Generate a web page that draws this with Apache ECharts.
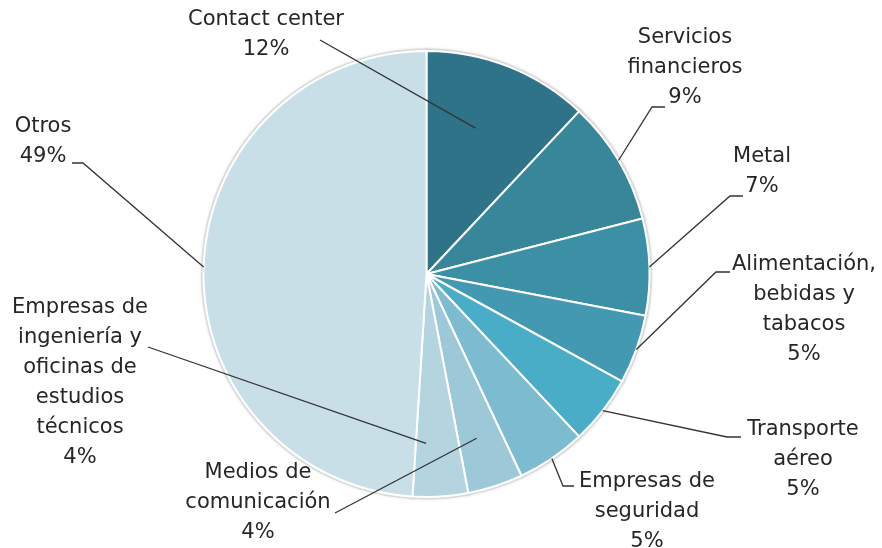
<!DOCTYPE html>
<html>
<head>
<meta charset="utf-8">
<script src="https://cdn.jsdelivr.net/npm/echarts@6/dist/echarts.min.js"></script>
<style>
html,body{margin:0;padding:0;background:#fff;}
#chart{width:882px;height:548px;}
</style>
</head>
<body>
<div id="chart"></div>
<script>
// ---- data ----
const categories = ['Contact center','Servicios financieros','Metal','Alimentación, bebidas y tabacos','Transporte aéreo','Empresas de seguridad','Medios de comunicación','Empresas de ingeniería y oficinas de estudios técnicos','Otros'];
const values = [12, 9, 7, 5, 5, 5, 4, 4, 49];
const labelTexts = [
  ['Contact center'],
  ['Servicios', 'financieros'],
  ['Metal'],
  ['Alimentación,', 'bebidas y', 'tabacos'],
  ['Transporte', 'aéreo'],
  ['Empresas de', 'seguridad'],
  ['Medios de', 'comunicación'],
  ['Empresas de', 'ingeniería y', 'oficinas de', 'estudios', 'técnicos'],
  ['Otros']
];
const colors = ['#2e7387','#378699','#3c90a6','#4399b1','#4aadc7','#7dbbd0','#9cc8d8','#b4d4e0','#c9dfe8'];

// ---- layout (positions only) ----
const PIE_CX = 426.5, PIE_CY = 274, PIE_R = 223;
// label block centre, leader line path (label side), anchor (t: fraction across slice, r: radius fraction)
const labelLayoutSpec = [
  {cx: 266, cy: 35,  path: [[320,40]],            t: 0.43, r: 0.69},
  {cx: 685, cy: 68,  path: [[652,107],[665,107]], t: 0.5,  r: 1},
  {cx: 762, cy: 172, path: [[730,196],[743,196]], t: 0.5,  r: 1},
  {cx: 804, cy: 310, path: [[716,272],[730,272]], t: 0.5,  r: 1},
  {cx: 803, cy: 460, path: [[727,437],[741,437]], t: 0.5,  r: 1},
  {cx: 647, cy: 512, path: [[563,486],[574,486]], t: 0.5,  r: 1},
  {cx: 258, cy: 503, path: [[335,513]],           t: 0.57, r: 0.77},
  {cx: 80,  cy: 383, path: [[148,347]],           t: 0.76, r: 0.76},
  {cx: 43,  cy: 142, path: [[83,163],[72,163]],   t: 0.5,  r: 1}
];

const total = values.reduce((a, b) => a + b, 0);
const cum = [];
values.reduce((acc, v, i) => { cum[i] = acc; return acc + v; }, 0);

function anchorPoint(i) {
  const spec = labelLayoutSpec[i];
  const a = (cum[i] + values[i] * spec.t) / total * 2 * Math.PI;
  const rr = PIE_R * spec.r;
  return [PIE_CX + rr * Math.sin(a), PIE_CY - rr * Math.cos(a)];
}

const TEXT_COLOR = '#262626';
const FONT = '"DejaVu Sans", sans-serif';
const FS = 21;

const pieData = categories.map((name, i) => ({name: name, value: values[i], itemStyle: {color: colors[i]}}));
const common = {
  type: 'pie',
  center: [PIE_CX, PIE_CY],
  radius: PIE_R,
  startAngle: 90,
  clockwise: true,
  avoidLabelOverlap: false,
  silent: true,
  emphasis: {disabled: true}
};

const chart = echarts.init(document.getElementById('chart'));
chart.setOption({
  animation: false,
  backgroundColor: '#ffffff',
  series: [
    // faint outer ring beneath the slices
    Object.assign({}, common, {
      z: 1,
      data: pieData.map(d => ({name: d.name, value: d.value})),
      itemStyle: {color: '#dadada', borderColor: '#dadada', borderWidth: 5, shadowBlur: 3, shadowColor: 'rgba(0,0,0,0.12)'},
      label: {show: false},
      labelLine: {show: false}
    }),
    // slices
    Object.assign({}, common, {
      z: 2,
      data: pieData,
      itemStyle: {borderColor: '#ffffff', borderWidth: 2},
      label: {show: false},
      labelLine: {show: false}
    }),
    // labels and leader lines (drawn on top)
    Object.assign({}, common, {
      z: 10,
      data: pieData.map(d => ({name: d.name, value: d.value})),
      itemStyle: {color: 'rgba(0,0,0,0)', borderWidth: 0},
      label: {
        show: true,
        position: 'outside',
        fontFamily: FONT,
        fontSize: FS,
        lineHeight: 30,
        color: TEXT_COLOR,
        formatter: function (p) {
          const lines = labelTexts[p.dataIndex].concat([p.value + '%']);
          return lines.map(s => '{c|' + s + '}').join('\n');
        },
        rich: {
          c: {fontFamily: FONT, fontSize: FS, fontWeight: 'normal', lineHeight: 30, color: TEXT_COLOR, align: 'center'}
        }
      },
      labelLine: {
        show: true,
        length: 10,
        length2: 10,
        smooth: false,
        lineStyle: {color: '#333333', width: 1.3}
      },
      labelLayout: function (params) {
        const i = params.dataIndex;
        const L = labelLayoutSpec[i];
        const w = params.labelRect.width, h = params.labelRect.height;
        let x = L.cx;
        if (params.align === 'left') x = L.cx - w / 2;
        else if (params.align === 'right') x = L.cx + w / 2;
        let y = L.cy;
        if (params.verticalAlign === 'top') y = L.cy - h / 2;
        else if (params.verticalAlign === 'bottom') y = L.cy + h / 2;
        const pts = [anchorPoint(i)].concat(L.path);
        if (pts.length === 2) pts.push(pts[1].slice());
        return {x: x, y: y, labelLinePoints: pts};
      }
    })
  ]
});
</script>
</body>
</html>
